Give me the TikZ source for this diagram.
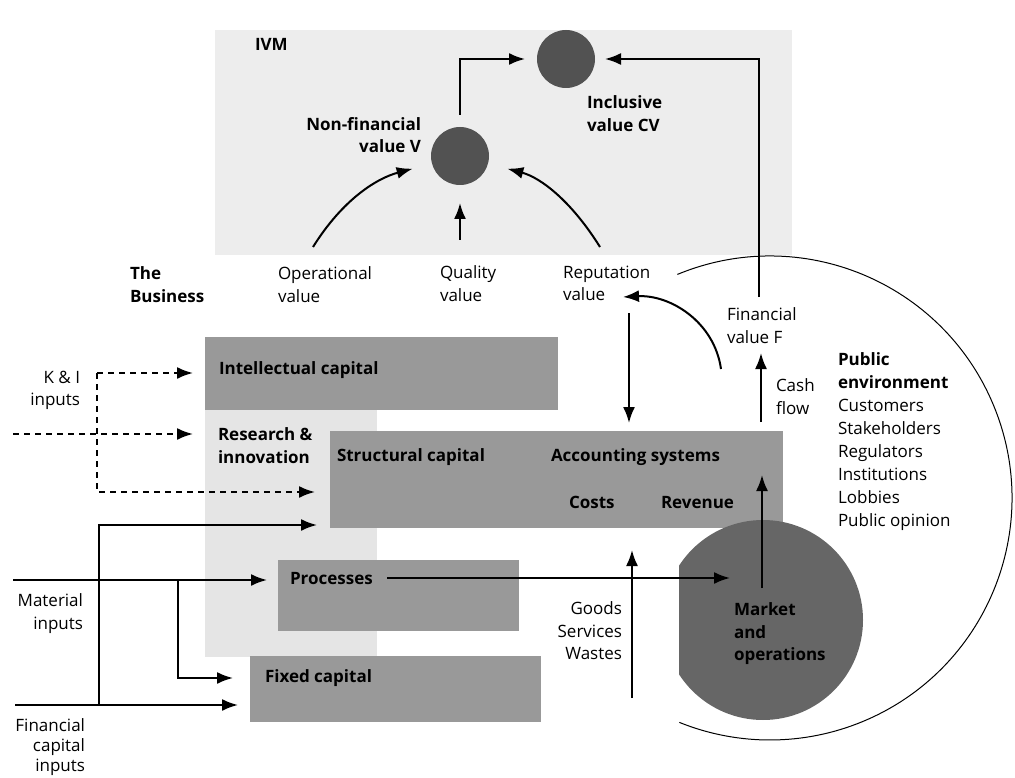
\documentclass[tikz,border=0pt]{standalone}
\usepackage{fontspec}
\setmainfont{Open Sans}
\usetikzlibrary{arrows.meta}
\definecolor{ivmbg}{gray}{0.93}
\definecolor{busbg}{gray}{0.90}
\definecolor{boxfill}{gray}{0.60}
\definecolor{ballfill}{gray}{0.32}
\definecolor{mktfill}{gray}{0.40}
\begin{document}
\begin{tikzpicture}[x=1pt,y=1pt,
  every node/.style={font=\fontsize{17}{22.5}\selectfont, inner sep=0pt, outer sep=0pt},
  blbl/.style={font=\fontsize{17}{22.5}\selectfont\bfseries},
  panel/.style={fill=boxfill, draw=none},
  ball/.style={circle, fill=ballfill, minimum size=58pt},
  arr/.style={line width=2pt, -{Latex[length=16pt,width=12pt]}},
  darr/.style={arr, dash pattern=on 6pt off 5pt},
  envline/.style={line width=1pt}]
\useasboundingbox (0,0) rectangle (1015,-778);

% background regions
\fill[ivmbg] (215,-30) rectangle (792,-255);
\fill[busbg] (205,-337) rectangle (377,-657);

% capital panels
\node[panel, minimum width=353pt, minimum height=73pt, anchor=north west] (intel) at (205,-337) {};
\node[panel, minimum width=453pt, minimum height=97pt, anchor=north west] (struct) at (330,-431) {};
\node[panel, minimum width=241pt, minimum height=71pt, anchor=north west] (proc) at (278,-560) {};
\node[panel, minimum width=291pt, minimum height=66pt, anchor=north west] (fixed) at (250,-656) {};
\begin{scope}
  \clip (679,-500) rectangle (880,-740);
  \node[circle, fill=mktfill, minimum size=200pt] (market) at (763,-620) {};
\end{scope}

% public environment boundary
\draw[envline] (770,-498) ++(112.5:242) arc[start angle=112.5, end angle=-112, radius=242];

% value balls
\node[ball] (cv) at (566,-59) {};
\node[ball] (nv) at (460,-156) {};

% texts
\node[blbl, anchor=base west] (ivm) at (255,-51) {IVM};
\node[blbl, align=right, anchor=north east] (nvl) at (421,-117) {Non-financial\\value V};
\node[blbl, align=left, anchor=north west] (cvl) at (587,-96) {Inclusive\\value CV};
\node[blbl, align=left, anchor=north west] (bus) at (130,-267) {The\\Business};
\node[align=left, anchor=north west] (opl) at (278,-267) {Operational\\value};
\node[align=left, anchor=north west] (qul) at (440,-266) {Quality\\value};
\node[align=left, anchor=north west] (rel) at (563,-266) {Reputation\\value};
\node[align=left, anchor=north west] (fvl) at (727,-308) {Financial\\value F};
\node[align=left, anchor=north west] (cfl) at (776,-379) {Cash\\flow};
\node[align=left, anchor=north west, font=\fontsize{17}{23}\selectfont] (pel) at (838,-353) {\textbf{Public}\\\textbf{environment}\\Customers\\Stakeholders\\Regulators\\Institutions\\Lobbies\\Public opinion};
\node[align=right, anchor=north east] (kil) at (80,-371) {K \& I\\inputs};
\node[blbl, align=left, anchor=north west] (rnl) at (218,-428) {Research \&\\innovation};
\node[blbl, anchor=base west] (intl) at (219,-374) {Intellectual capital};
\node[blbl, anchor=base west] (stl) at (337,-461) {Structural capital};
\node[blbl, anchor=base west] (acl) at (551,-461) {Accounting systems};
\node[blbl, anchor=base west] (col) at (569,-508) {Costs};
\node[blbl, anchor=base west] (rvl) at (661,-508) {Revenue};
\node[blbl, anchor=base west] (prl) at (290,-584) {Processes};
\node[blbl, anchor=base west] (fxl) at (265,-682) {Fixed capital};
\node[align=right, anchor=north east] (gsl) at (622,-602) {Goods\\Services\\Wastes};
\node[blbl, align=left, anchor=north west] (mkl) at (734,-603) {Market\\and\\operations};
\node[align=right, anchor=north east] (mil) at (83,-594) {Material\\inputs};
\node[align=right, anchor=north east, font=\fontsize{17}{20}\selectfont] (fil) at (85,-719) {Financial\\capital\\inputs};

% coordinates for connector ends
\coordinate (fv) at (759,-297);
\coordinate (op) at (313,-247);
\coordinate (ql) at (460,-240);
\coordinate (rp) at (600,-247);
\coordinate (rpb) at (629,-313);
\coordinate (fa) at (721,-369);
\coordinate (rpv) at (623,-297);
\coordinate (cf) at (761,-422);
\coordinate (fvb) at (761,-353);
\coordinate (mk) at (762,-588);
\coordinate (acc) at (762,-475);
\coordinate (pr) at (387,-578);
\coordinate (mkin) at (730,-578);
\coordinate (gd) at (632,-698);
\coordinate (gdt) at (632,-550);
\coordinate (ki) at (97,-373);
\coordinate (kit) at (193,-373);
\coordinate (rin) at (13,-434);
\coordinate (rit) at (193,-434);
\coordinate (kb) at (315,-492);
\coordinate (fin0) at (15,-705);
\coordinate (fin1) at (238,-705);
\coordinate (fj) at (99,-705);
\coordinate (st) at (317,-525);
\coordinate (mat0) at (13,-580);
\coordinate (mat1) at (267,-580);
\coordinate (mj) at (178,-580);
\coordinate (fx) at (233,-678);

% IVM connectors
\draw[arr, shorten <=12pt] (nv.north) |- ([xshift=-12pt]cv.west);
\draw[arr] (fv) |- ([xshift=10pt]cv.east);
\draw[arr, shorten >=20pt] (op) to[out=58,in=195] (nv);
\draw[arr] (ql) -- ([yshift=-18pt]nv.south);
\draw[arr, shorten >=20pt] (rp) to[out=122,in=-15] (nv);

% business connectors
\draw[arr, shorten >=8pt] (rpb) -- (rpb |- struct.north);
\draw[arr] (fa) to[out=98,in=3] (rpv);
\draw[arr] (cf) -- (fvb);
\draw[arr] (mk) -- (acc);
\draw[arr] (pr) -- (mkin);
\draw[arr] (gd) -- (gdt);

% inputs
\draw[darr] (ki) -- (kit);
\draw[darr] (rin) -- (rit);
\draw[darr] (ki) |- (kb);
\draw[arr] (fin0) -- (fin1);
\draw[arr] (fj) |- (st);
\draw[arr] (mat0) -- (mat1);
\draw[arr] (mj) |- (fx);
\end{tikzpicture}
\end{document}
